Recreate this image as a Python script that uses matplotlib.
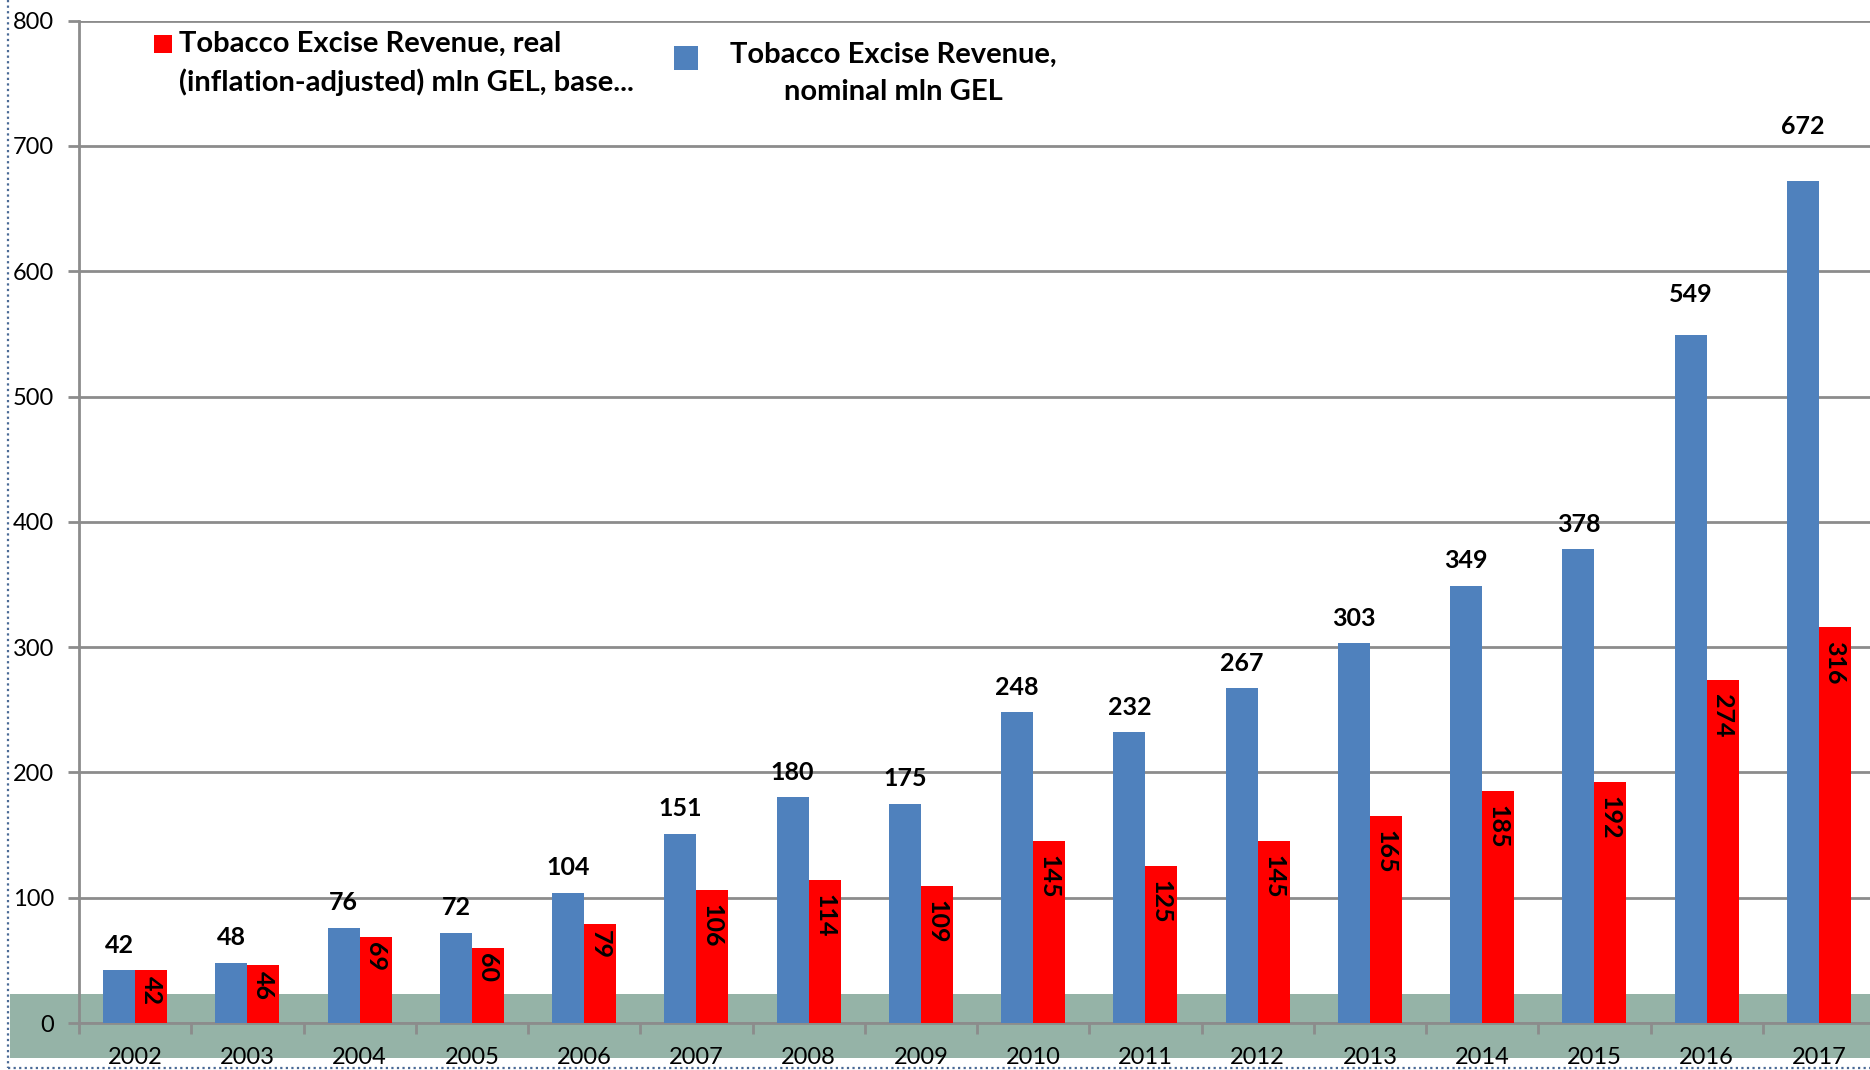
import numpy as np
import matplotlib.pyplot as plt
from matplotlib.patches import Rectangle
from matplotlib.lines import Line2D

plt.rcParams['font.family'] = ['Lato', 'DejaVu Sans']

# tobacco excise revenue, mln GEL
years = ['2002', '2003', '2004', '2005', '2006', '2007', '2008', '2009',
         '2010', '2011', '2012', '2013', '2014', '2015', '2016', '2017']
nominal = [42, 48, 76, 72, 104, 151, 180, 175, 248, 232, 267, 303, 349, 378, 549, 672]
real = [42, 46, 69, 60, 79, 106, 114, 109, 145, 125, 145, 165, 185, 192, 274, 316]

label_nominal = 'Tobacco Excise Revenue,\nnominal mln GEL'
label_real = 'Tobacco Excise Revenue, real\n(inflation-adjusted) mln GEL, base...'

blue = '#4F81BD'
red = '#FF0000'
grid_gray = '#8C8C8C'
floor_green = '#95B3A7'

W, H = 1870, 1070
fig = plt.figure(figsize=(W / 100, H / 100), dpi=100)


def fx(px):
    return px / W


def fy(py):
    return 1 - py / H


# green floor strip behind the bottom of the plot
fig.patches.append(Rectangle((fx(10), fy(1058)), fx(W), (1058 - 994) / H,
                             transform=fig.transFigure, facecolor=floor_green,
                             edgecolor='none', zorder=-5))

# dotted frame on the left and bottom
fig.lines.append(Line2D([fx(8), fx(8)], [fy(0), fy(1068)], transform=fig.transFigure,
                        color='#4A6A96', linestyle=(0, (1, 1.5)), linewidth=1.6))
fig.lines.append(Line2D([fx(8), fx(W)], [fy(1068), fy(1068)], transform=fig.transFigure,
                        color='#4A6A96', linestyle=(0, (1, 1.5)), linewidth=1.6))

ax = fig.add_axes([fx(79), fy(1023), (1875 - 79) / W, (1023 - 20.7) / H])
ax.patch.set_visible(False)

x = np.arange(len(years))
w = 0.285
bars_nom = ax.bar(x - w / 2, nominal, w, color=blue, zorder=3)
bars_real = ax.bar(x + w / 2, real, w, color=red, zorder=3)

# value labels: nominal above the bars, real rotated inside the bar top
lift = [18] * len(years)
lift[-2] = 29
lift[-1] = 39
for xi, v, dy in zip(x, nominal, lift):
    ax.annotate(str(v), (xi - w / 2, v), xytext=(0, dy), textcoords='offset points',
                ha='center', va='center', fontsize=18, fontweight='bold', zorder=5)
for xi, v in zip(x, real):
    ax.annotate(str(v), (xi + w / 2, v), xytext=(0, -4 if v < 100 else -10),
                textcoords='offset points', ha='center', va='top', rotation=-90,
                fontsize=18, fontweight='bold', zorder=5)

ax.set_xlim(-0.5, len(years) - 0.5)
ax.set_ylim(0, 800)
ax.set_yticks(np.arange(0, 801, 100))
ax.yaxis.grid(True, color=grid_gray, linewidth=2, zorder=0)
ax.set_axisbelow(True)

ax.set_xticks(x)
ax.set_xticklabels(years)
ax.set_xticks(np.arange(-0.5, len(years), 1), minor=True)
ax.tick_params(axis='x', which='major', length=0, pad=17, labelsize=17)
ax.tick_params(axis='x', which='minor', length=8, width=2, color=grid_gray)
ax.tick_params(axis='y', length=8, width=2, color=grid_gray, pad=10, labelsize=17)

for side in ['top', 'right']:
    ax.spines[side].set_visible(False)
for side in ['left', 'bottom']:
    ax.spines[side].set_color(grid_gray)
    ax.spines[side].set_linewidth(2)

# legend entries
fig.patches.append(Rectangle((fx(154), fy(53)), 18 / W, 18 / H, transform=fig.transFigure,
                             facecolor=red, edgecolor='none'))
fig.text(fx(179), fy(31), label_real, ha='left', va='top', fontsize=21,
         fontweight='bold', linespacing=1.5)
fig.patches.append(Rectangle((fx(674), fy(70)), 24 / W, 24 / H, transform=fig.transFigure,
                             facecolor=blue, edgecolor='none'))
fig.text(fx(893), fy(42), label_nominal, ha='center', va='top', fontsize=21,
         fontweight='bold', linespacing=1.5, multialignment='center')

fig.savefig('out.png', dpi=100)
